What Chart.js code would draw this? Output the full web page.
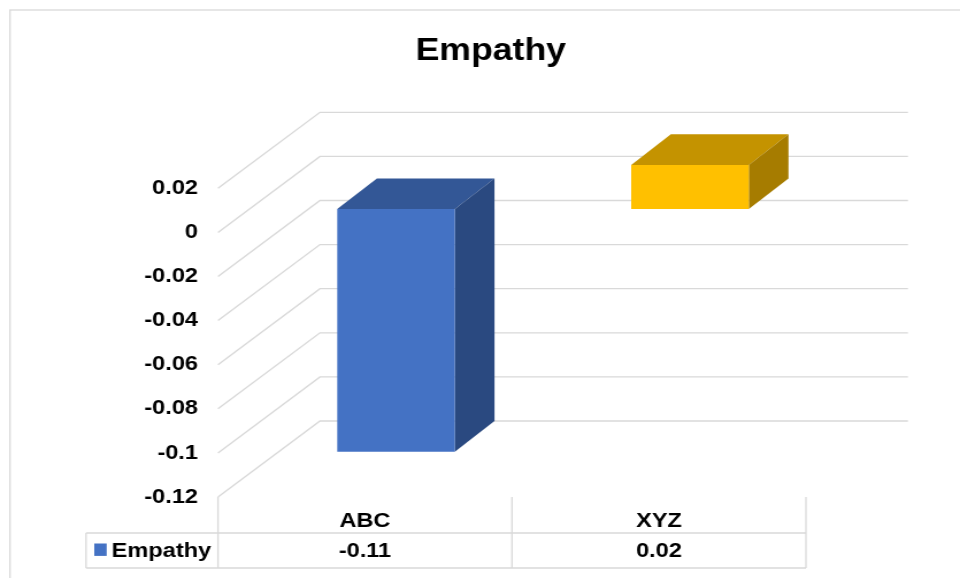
<!DOCTYPE html>
<html>
<head>
<meta charset="utf-8">
<title>Empathy</title>
<script src="https://cdn.jsdelivr.net/npm/chart.js@4.4.1/dist/chart.umd.min.js"></script>
<style>
  html, body { margin: 0; padding: 0; background: #fff; overflow: hidden; }
  /* the drawing is laid out on a narrower canvas and widened to the page */
  #wrap { width: 835px; height: 578px; transform-origin: 0 0; transform: scaleX(1.1497); }
  canvas { display: block; }
</style>
</head>
<body>
<div id="wrap"><canvas id="chart" width="835" height="578"></canvas></div>
<script>
// ---- data ----
const categories = ['ABC', 'XYZ'];
const seriesName = 'Empathy';
const empathyValues = [-0.11, 0.02];
const tickValues = [0.02, 0, -0.02, -0.04, -0.06, -0.08, -0.1, -0.12];
const tickLabels = ['0.02', '0', '-0.02', '-0.04', '-0.06', '-0.08', '-0.1', '-0.12'];

// ---- styles ----
const FONT = '"Liberation Sans", Arial, Helvetica, sans-serif';
const frontColors = ['#4472C4', '#FFC000'];
const topColors = ['#335796', '#C49300'];
const sideColors = ['#2A4980', '#A67C00'];
const LINE = '#D9D9D9';
// 3-D projection offsets (canvas units)
const depth = { wallDx: 88.7, wallDy: -76, barDx: 27, barDy: -23.3, barDepthDx: 34.5, barDepthDy: -30.7 };

const frame3d = {
  id: 'frame3d',
  beforeDraw(chart) {
    const ctx = chart.ctx;
    ctx.save();
    ctx.fillStyle = '#fff';
    ctx.fillRect(0, 0, chart.width, chart.height);
    ctx.strokeStyle = LINE;
    ctx.lineWidth = 1.3;
    ctx.strokeRect(8.7, 10, chart.width + 40, chart.height + 40);
    ctx.restore();
  },
  beforeDatasetsDraw(chart) {
    const { ctx, chartArea: a, scales: { y } } = chart;
    ctx.save();
    // side wall and back wall gridlines
    ctx.strokeStyle = LINE;
    ctx.lineWidth = 1.3;
    y.ticks.forEach(t => {
      const py = y.getPixelForValue(t.value);
      ctx.beginPath();
      ctx.moveTo(a.left, py);
      ctx.lineTo(a.left + depth.wallDx, py + depth.wallDy);
      ctx.lineTo(a.right + depth.wallDx, py + depth.wallDy);
      ctx.stroke();
    });
    // top and side faces of each column
    const meta = chart.getDatasetMeta(0);
    meta.data.forEach((bar, i) => {
      const p = bar.getProps(['x', 'y', 'base', 'width'], true);
      const l = p.x - p.width / 2 + depth.barDx;
      const r = p.x + p.width / 2 + depth.barDx;
      const t = Math.min(p.y, p.base) + depth.barDy;
      const b = Math.max(p.y, p.base) + depth.barDy;
      const dx = depth.barDepthDx, dy = depth.barDepthDy;
      ctx.fillStyle = topColors[i];
      ctx.beginPath();
      ctx.moveTo(l, t); ctx.lineTo(l + dx, t + dy); ctx.lineTo(r + dx, t + dy); ctx.lineTo(r, t);
      ctx.closePath(); ctx.fill();
      ctx.fillStyle = sideColors[i];
      ctx.beginPath();
      ctx.moveTo(r, t); ctx.lineTo(r + dx, t + dy); ctx.lineTo(r + dx, b + dy); ctx.lineTo(r, b);
      ctx.closePath(); ctx.fill();
    });
    ctx.restore();
    // front faces sit inside the depth of the plot
    ctx.save();
    ctx.translate(depth.barDx, depth.barDy);
  },
  afterDatasetsDraw(chart) {
    chart.ctx.restore();
  },
  afterDraw(chart) {
    // data table under the plot
    const { ctx, chartArea: a, scales: { x } } = chart;
    const n = categories.length;
    const colW = a.width / n;
    const rowTop = a.bottom, rowMid = a.bottom + 36, rowBot = a.bottom + 71;
    const keyLeft = 74.8;
    ctx.save();
    ctx.strokeStyle = LINE;
    ctx.lineWidth = 1.3;
    ctx.beginPath();
    for (let k = 0; k <= n; k++) {
      const vx = a.left + k * colW;
      ctx.moveTo(vx, rowTop); ctx.lineTo(vx, rowBot);
    }
    ctx.moveTo(keyLeft, rowMid); ctx.lineTo(keyLeft, rowBot);
    ctx.moveTo(keyLeft, rowMid); ctx.lineTo(a.right, rowMid);
    ctx.moveTo(keyLeft, rowBot); ctx.lineTo(a.right, rowBot);
    ctx.stroke();

    ctx.fillStyle = '#000';
    ctx.font = 'bold 20.5px ' + FONT;
    ctx.textBaseline = 'alphabetic';
    ctx.textAlign = 'center';
    categories.forEach((c, i) => {
      const cx = x.getPixelForValue(i);
      ctx.fillText(c, cx, rowTop + 30);
      ctx.fillText(String(empathyValues[i]), cx, rowMid + 24);
    });
    // legend key
    ctx.fillStyle = frontColors[0];
    ctx.fillRect(82, rowMid + 10.5, 10.8, 12.4);
    ctx.fillStyle = '#000';
    ctx.textAlign = 'left';
    ctx.fillText(seriesName, 97.1, rowMid + 24);
    ctx.restore();
  }
};

new Chart(document.getElementById('chart'), {
  type: 'bar',
  data: {
    labels: categories,
    datasets: [{
      label: seriesName,
      data: empathyValues,
      backgroundColor: frontColors,
      borderWidth: 0,
      categoryPercentage: 1,
      barPercentage: 0.4,
      clip: false
    }]
  },
  options: {
    responsive: false,
    animation: false,
    devicePixelRatio: 1,
    events: [],
    layout: { padding: { left: 110, right: 91.2, top: 0, bottom: 81 } },
    plugins: {
      legend: { display: false },
      tooltip: { enabled: false },
      title: {
        display: true,
        text: 'Empathy',
        color: '#000',
        font: { family: FONT, size: 31, weight: 'bold', lineHeight: 1.2 },
        padding: { top: 32.4, bottom: 118.7 }
      }
    },
    scales: {
      x: { display: false, offset: true },
      y: {
        min: -0.12,
        max: 0.02,
        border: { display: false },
        grid: { display: false, drawTicks: false },
        afterFit(scale) { scale.width = 79.6; },
        ticks: {
          stepSize: 0.02,
          padding: 17.4,
          color: '#000',
          font: { family: FONT, size: 20.5, weight: 'bold' },
          callback(value) {
            const idx = tickValues.findIndex(v => Math.abs(v - value) < 1e-9);
            return idx >= 0 ? tickLabels[idx] : '';
          }
        }
      },
      // empty band on the right that holds the depth of the back wall
      depthBand: {
        type: 'linear',
        position: 'right',
        display: true,
        border: { display: false },
        grid: { display: false, drawTicks: false },
        ticks: { display: false },
        afterFit(scale) { scale.width = 42.8; }
      }
    }
  },
  plugins: [frame3d]
});
</script>
</body>
</html>
